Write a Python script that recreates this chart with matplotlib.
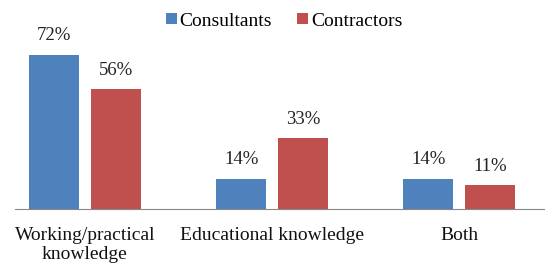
import numpy as np
import matplotlib.pyplot as plt

categories = ["Working/practical\nknowledge", "Educational knowledge", "Both"]
consultants = [72, 14, 14]
contractors = [56, 33, 11]

plt.rcParams['font.family'] = ['Liberation Serif', 'DejaVu Serif']

fig = plt.figure(figsize=(5.45, 2.67), dpi=100)
ax = fig.add_axes([15/545, 58/267, 530/545, 209/267])

x = np.arange(len(categories))
w = 0.27
b1 = ax.bar(x - 0.165, consultants, w, color="#4F81BD", label="Consultants")
b2 = ax.bar(x + 0.165, contractors, w, color="#C0504D", label="Contractors")

for bars, vals in [(b1, consultants), (b2, contractors)]:
    for r, v in zip(bars, vals):
        ax.text(r.get_x() + r.get_width()/2, v + 5.0, "{}%".format(v),
                ha="center", va="bottom", fontsize=13.5, color="#222222")

ax.set_xlim(-0.374, 2.46)
ax.set_ylim(0, 97.7)
ax.set_yticks([])
ax.set_xticks(x)
ax.set_xticklabels(categories, fontsize=14, color="#111111", linespacing=1.15)
ax.tick_params(axis="x", length=0, pad=13)
for s in ["top", "right", "left"]:
    ax.spines[s].set_visible(False)
ax.spines["bottom"].set_color("#888888")

fig.legend(handles=[b1, b2], loc="center", bbox_to_anchor=(284/545, 1 - 21/267),
           ncol=2, frameon=False, fontsize=14, handlelength=0.55, handleheight=0.55,
           handletextpad=0.15, columnspacing=1.3)

fig.savefig("out.png", dpi=100)
